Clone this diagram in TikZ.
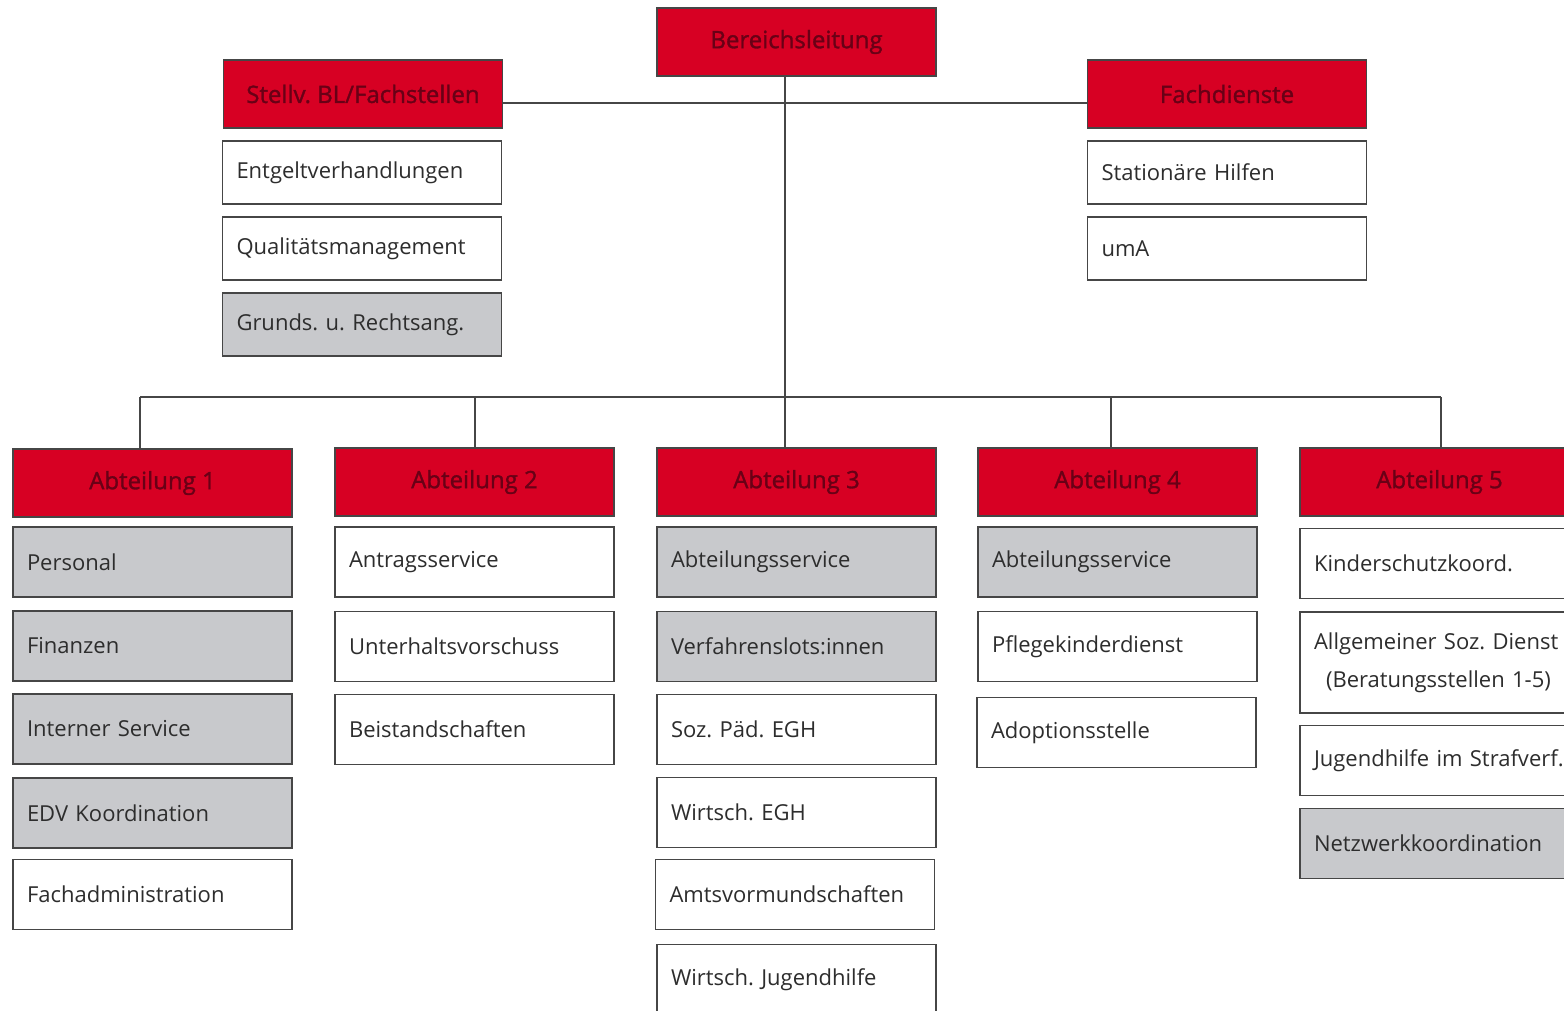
\documentclass[tikz,border=0pt]{standalone}
\usepackage{fontspec}
\setmainfont{Open Sans}
\newfontfamily\kopfschrift{Open Sans}[BoldFont={Open Sans}, BoldFeatures={FakeBold=1.3}]
\usepackage{tikz}
\frenchspacing
\definecolor{amtrot}{RGB}{215,0,35}
\definecolor{kopftext}{RGB}{105,0,22}
\definecolor{feldgrau}{RGB}{200,201,204}
\definecolor{strich}{RGB}{70,70,70}
\definecolor{schrift}{RGB}{45,45,45}

\begin{document}
\begin{tikzpicture}[x=0.5pt, y=-0.5pt,
	kopf/.style={draw=strich, line width=0.9pt, fill=amtrot, text=kopftext, minimum width=139.5pt, minimum height=34pt, inner sep=0pt, font=\kopfschrift\bfseries\fontsize{12}{14}\selectfont},
	feld/.style={draw=strich, line width=0.9pt, fill=white, text=schrift, text width=125.5pt, inner xsep=7pt, inner ysep=0pt, minimum height=35pt, align=left, font=\fontsize{11}{13}\selectfont},
	grau/.style={feld, fill=feldgrau},
	verbindung/.style={draw=strich, line width=1pt}]
				\clip (0,0) rectangle (1564,1011);
				\fill[white] (0,0) rectangle (1564,1011);
				\node[kopf] (bl) at (796.5,42) {Bereichsleitung};
				\node[kopf] (stv) at (363,94) {Stellv. BL/Fachstellen};
				\node[kopf] (fd) at (1227,94) {Fachdienste};
				\node[feld, minimum height=31.5pt] (entg) at (362,172.5) {Entgeltverhandlungen};
				\node[feld, minimum height=31.5pt] (qm) at (362,248.5) {Qualitätsmanagement};
				\node[grau, minimum height=31.5pt] (grund) at (362,324.5) {Grunds. u. Rechtsang.};
				\node[feld, minimum height=31.5pt] (stat) at (1227,172.5) {Stationäre Hilfen};
				\node[feld, minimum height=31.5pt] (uma) at (1227,248.5) {umA};
				\node[kopf] (a1) at (152.5,483) {Abteilung 1};
				\node[kopf] (a2) at (474.5,482) {Abteilung 2};
				\node[kopf] (a3) at (796.5,482) {Abteilung 3};
				\node[kopf] (a4) at (1117.5,482) {Abteilung 4};
				\node[kopf] (a5) at (1439.5,482) {Abteilung 5};
				\node[grau] (pers) at (152.5,562) {Personal};
				\node[grau] (fin) at (152.5,646) {Finanzen};
				\node[grau] (intern) at (152.5,729) {Interner Service};
				\node[grau] (edv) at (152.5,813) {EDV Koordination};
				\node[feld] (fachadm) at (152.5,894.5) {Fachadministration};
				\node[feld] (antrag) at (474.5,562) {Antragsservice};
				\node[feld] (uvs) at (474.5,646.5) {Unterhaltsvorschuss};
				\node[feld] (beist) at (474.5,729.5) {Beistandschaften};
				\node[grau] (abts3) at (796.5,562) {Abteilungsservice};
				\node[grau] (lots) at (796.5,646.5) {Verfahrenslots:innen};
				\node[feld] (spegh) at (796.5,729.5) {Soz. Päd. EGH};
				\node[feld] (wegh) at (796.5,812.5) {Wirtsch. EGH};
				\node[feld] (avm) at (795,894.5) {Amtsvormundschaften};
				\node[feld] (wjh) at (796.5,979.5) {Wirtsch. Jugendhilfe};
				\node[grau] (abts4) at (1117.5,562) {Abteilungsservice};
				\node[feld] (pkd) at (1117.5,646.5) {Pflegekinderdienst};
				\node[feld] (adopt) at (1116.5,732.5) {Adoptionsstelle};
				\node[feld] (kinder) at (1439.5,563.5) {Kinderschutzkoord.};
				\node[feld, minimum height=50.5pt] (asd) at (1439.5,662.5) {Allgemeiner Soz. Dienst\\[6pt]\hspace*{6pt}(Beratungsstellen 1-5)};
				\node[feld] (jgh) at (1439.5,760.5) {Jugendhilfe im Strafverf.};
				\node[grau] (netz) at (1439.5,843.5) {Netzwerkkoordination};
				\coordinate (oben) at (785,103);
				\coordinate (unten) at (785,397);
				\coordinate (d1) at (140,397);
				\coordinate (d2) at (475,397);
				\coordinate (d3) at (785,397);
				\coordinate (d4) at (1111,397);
				\coordinate (d5) at (1441,397);
				\draw[verbindung] (bl.south -| unten) -- (unten);
				\draw[verbindung] (stv.east |- oben) -- (fd.west |- oben);
				\draw[verbindung] (d1) -- (d5);
				\foreach \n in {1,...,5}
					\draw[verbindung] (d\n) -- (d\n |- a\n.north);
			\end{tikzpicture}
\end{document}
